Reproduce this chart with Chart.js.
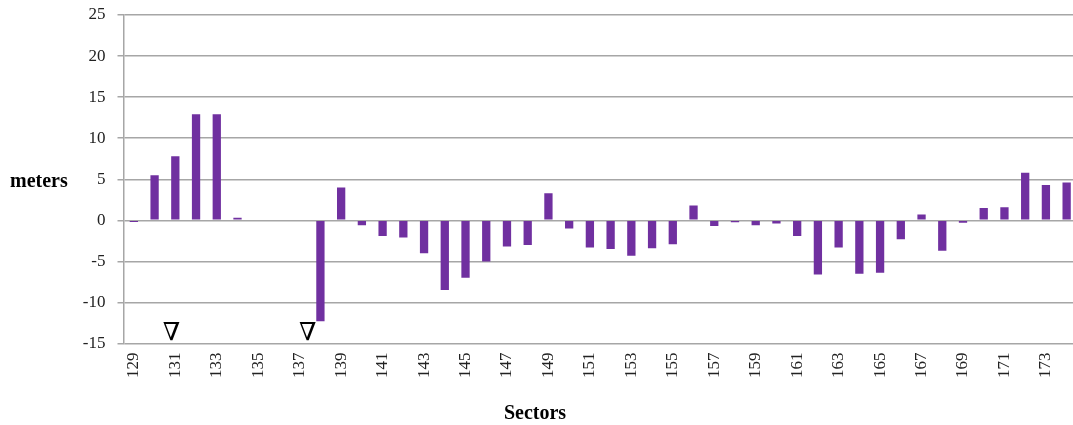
<!DOCTYPE html>
<html>
<head>
<meta charset="utf-8">
<script src="https://cdn.jsdelivr.net/npm/chart.js@4"></script>
<style>
  html, body { margin: 0; padding: 0; background: #fff; overflow: hidden; }
  #wrap { position: relative; width: 1073px; height: 425px; overflow: hidden; }
</style>
</head>
<body>
<div id="wrap"><canvas id="sectorChart" width="1077" height="425"></canvas></div>
<script>
// Sector offsets (meters)
const sectors = [];
for (let s = 129; s <= 174; s++) sectors.push(String(s));

const meters = [
  -0.2, 5.5, 7.8, 12.9, 12.9, 0.3, 0, 0, 0, -12.3,
  4.0, -0.6, -1.9, -2.1, -4.0, -8.5, -7.0, -5.0, -3.2, -3.0,
  3.3, -1.0, -3.3, -3.5, -4.3, -3.4, -2.9, 1.8, -0.7, -0.25,
  -0.6, -0.4, -1.9, -6.6, -3.3, -6.5, -6.4, -2.3, 0.7, -3.7,
  -0.3, 1.5, 1.6, 5.8, 4.3, 4.6
];

const yTicks = [-15, -10, -5, 0, 5, 10, 15, 20, 25];

// triangle markers under sectors 131 and 137/138 (category index, value)
const markerPos = [1.82, 8.39];
const markerVal = -15;

const serif = '"Liberation Serif", "DejaVu Serif", serif';

const extras = {
  id: 'extras',
  afterDraw(chart) {
    const ctx = chart.ctx;
    const x = chart.scales.x, y = chart.scales.y;
    const area = chart.chartArea;
    ctx.save();
    ctx.fillStyle = '#000';
    ctx.font = 'bold 20px ' + serif;
    ctx.textAlign = 'left';
    ctx.textBaseline = 'middle';
    ctx.fillText('meters', 10, (area.top + area.bottom) / 2 + 3);

    ctx.textAlign = 'center';
    ctx.fillText('Sectors', 535, 414);

    ctx.font = '25px ' + serif;
    ctx.textBaseline = 'bottom';
    markerPos.forEach(p => {
      ctx.fillText('\u2207', x.getPixelForValue(p), y.getPixelForValue(markerVal) + 2);
    });
    ctx.restore();
  }
};

const ctx = document.getElementById('sectorChart').getContext('2d');
new Chart(ctx, {
  type: 'bar',
  data: {
    labels: sectors,
    datasets: [{
      data: meters,
      backgroundColor: '#7030a0',
      borderWidth: 0,
      barPercentage: 0.4,
      categoryPercentage: 1.0
    }]
  },
  options: {
    responsive: false,
    animation: false,
    layout: { padding: { top: 15, right: 0, left: 0, bottom: 38 } },
    plugins: {
      legend: { display: false },
      tooltip: { enabled: false }
    },
    scales: {
      x: {
        afterFit(s) { s.paddingLeft = 0; s.paddingRight = 0; },
        grid: { display: false, drawTicks: false },
        border: { display: false },
        ticks: {
          autoSkip: false,
          minRotation: 90,
          maxRotation: 90,
          padding: 9,
          color: '#222',
          font: { family: serif, size: 17 },
          callback: function(v, i) { return i % 2 === 0 ? this.getLabelForValue(v) : ''; }
        }
      },
      y: {
        min: -15,
        max: 25,
        afterFit(s) { s.width = 123.5; s.paddingTop = 0; s.paddingBottom = 0; },
        afterBuildTicks(s) { s.ticks = yTicks.map(v => ({ value: v })); },
        grid: { color: '#a6a6a6', lineWidth: 1.5, tickLength: 6 },
        border: { display: true, color: '#a6a6a6', width: 1.5 },
        ticks: {
          padding: 12,
          color: '#222',
          font: { family: serif, size: 17 }
        }
      }
    }
  },
  plugins: [extras]
});
</script>
</body>
</html>
